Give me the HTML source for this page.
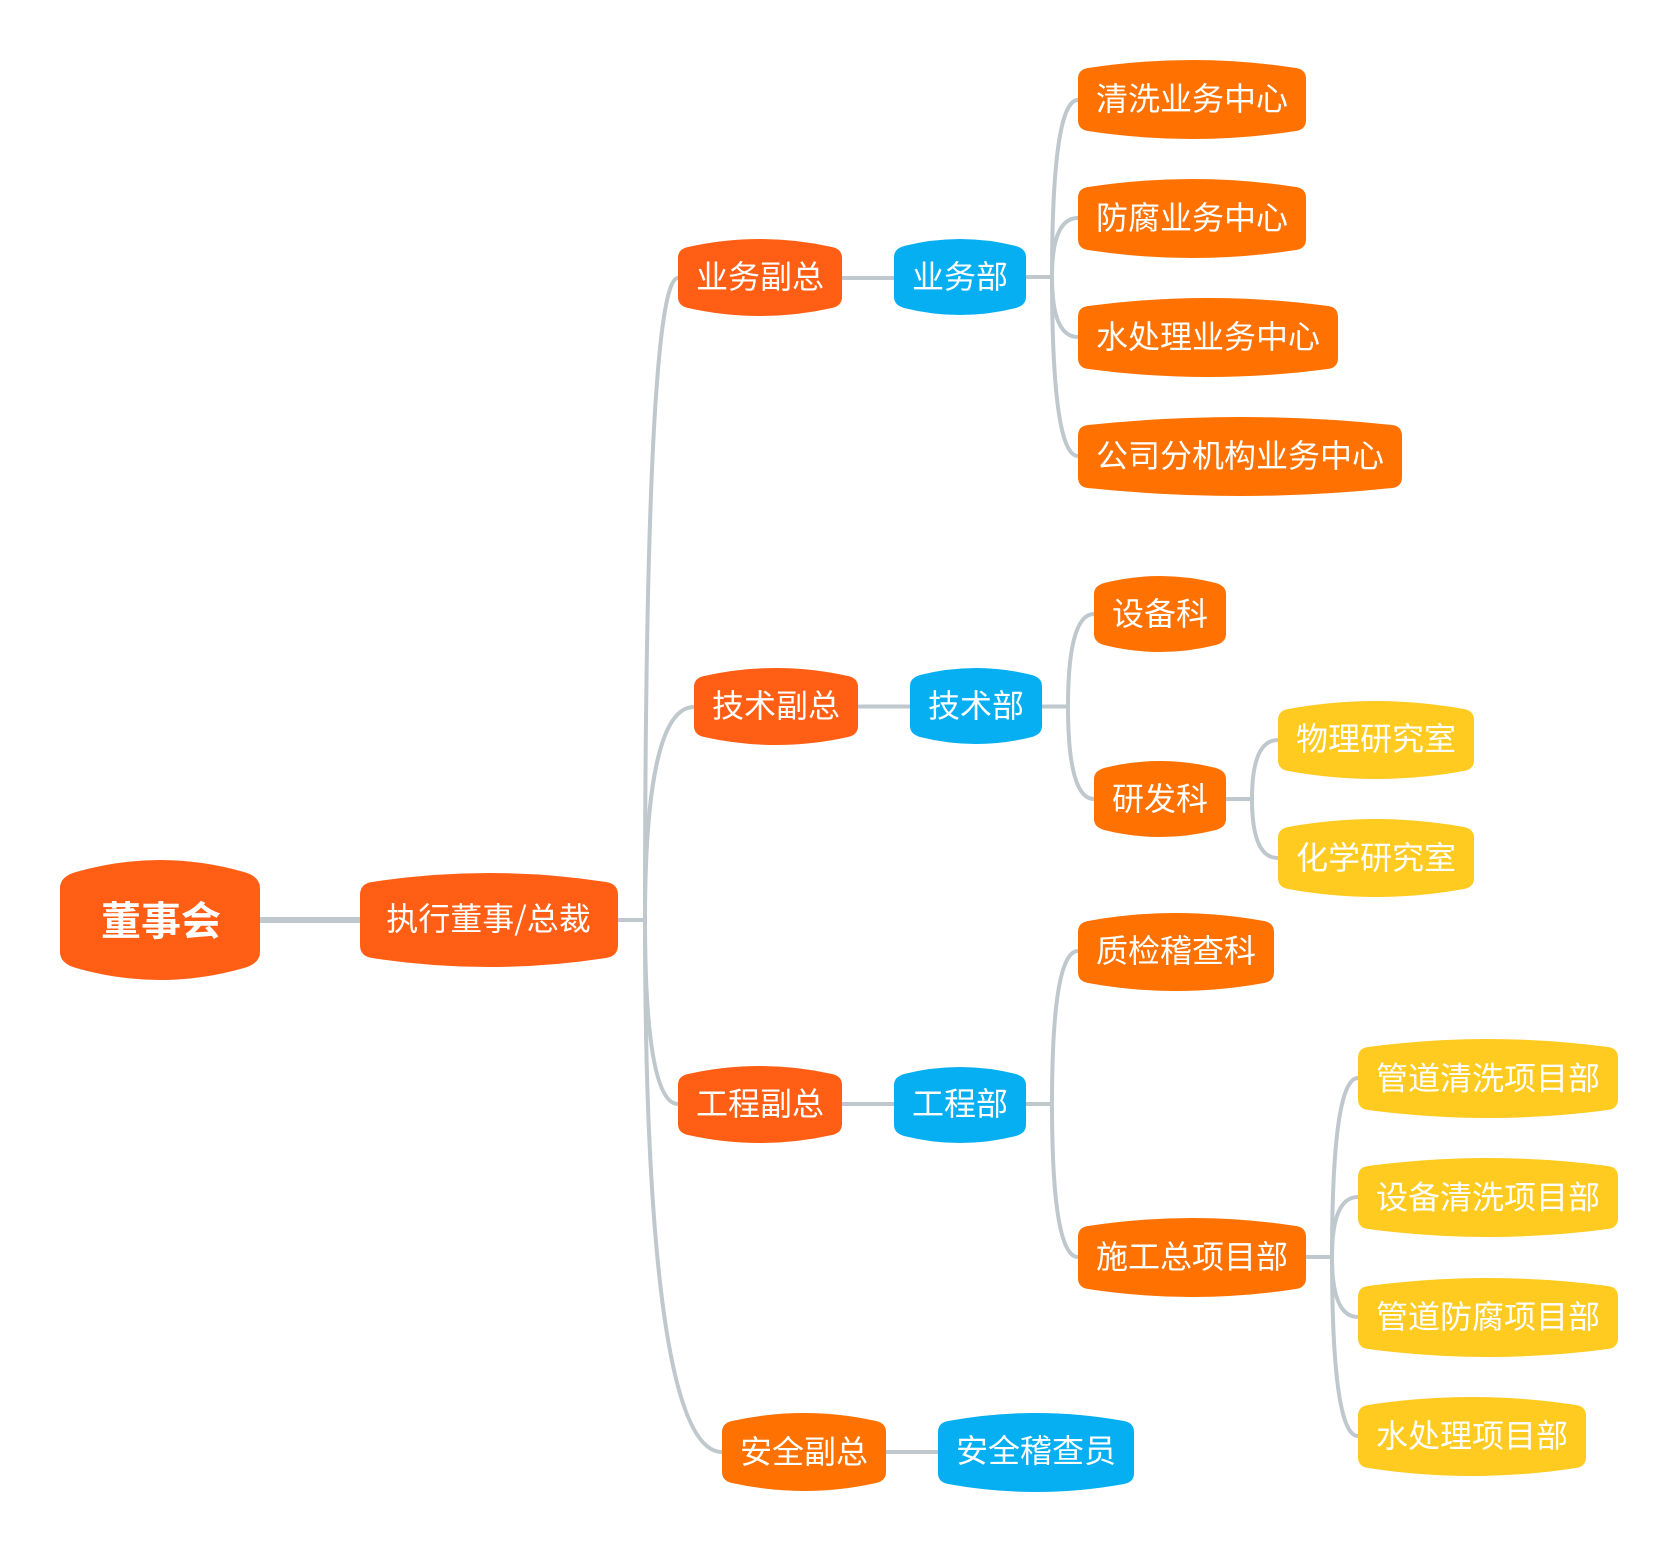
<!DOCTYPE html>
<html lang="zh"><head><meta charset="utf-8"><title>组织架构</title>
<style>
html,body{margin:0;padding:0;background:#fff}
svg{display:block}
text{font-family:"Liberation Sans","Noto Sans CJK SC",sans-serif;font-size:32px;fill:#fff;text-anchor:middle}
.l{fill:none;stroke:#bfc8cc;stroke-width:4}
.a{fill:#ff5e14}.b{fill:#ff7100}.c{fill:#05aff2}.d{fill:#ffcb20}
</style></head><body>
<svg width="1678" height="1552" viewBox="0 0 1678 1552" xmlns="http://www.w3.org/2000/svg">
<rect width="1678" height="1552" fill="#fff"/>
<g class="l">
<path d="M260 920H360" stroke-width="6"/>
<path d="M618 920H645M842 278H894M1026 277H1052M858 706.500H910M1042 706.500H1068M1226 799H1252M842 1104H894M1026 1104H1052M1306 1257H1332M886 1452H938"/>
<path d="M645 920C645 599 651.600 278 678 278"/>
<path d="M645 920C645 813.500 654.800 707 694 707"/>
<path d="M645 920C645 1012 651.600 1104 678 1104"/>
<path d="M645 920C645 1186 660.400 1452 722 1452"/>
<path d="M1052 277C1052 188.500 1057 100 1078 100"/>
<path d="M1052 277C1052 247.500 1057 218 1078 218"/>
<path d="M1052 277C1052 307 1057 337 1078 337"/>
<path d="M1052 277C1052 366.500 1057 456 1078 456"/>
<path d="M1068 706.500C1068 660.500 1073 614 1094 614"/>
<path d="M1068 706.500C1068 753 1073 799 1094 799"/>
<path d="M1252 799C1252 769.500 1257 740 1278 740"/>
<path d="M1252 799C1252 828.500 1257 858 1278 858"/>
<path d="M1052 1104C1052 1027.500 1057 951 1078 951"/>
<path d="M1052 1104C1052 1180.500 1057 1257 1078 1257"/>
<path d="M1332 1257C1332 1167.500 1337 1078 1358 1078"/>
<path d="M1332 1257C1332 1227 1337 1197 1358 1197"/>
<path d="M1332 1257C1332 1287 1337 1317 1358 1317"/>
<path d="M1332 1257C1332 1346.500 1337 1436 1358 1436"/>
</g>

<path class="a" d="M60 888q0-11.400 16-16q84-24 168 0q16 4.600 16 16v64q0 11.400-16 16q-84 24-168 0q-16-4.600-16-16z"/>
<text x="161" y="935" style="font-size:40px;font-weight:bold">董事会</text>

<path class="a" d="M360 895q0-11.200 12-13q117-18 234 0q12 1.800 12 13v50q0 11.200-12 13q-117 18-234 0q-12-1.800-12-13z"/>
<text x="488.500" y="930" style='font-family:"Noto Sans CJK SC",sans-serif'>执行董事/总裁</text>

<g transform="translate(678 239)"><path class="a" d="M0 19q0-8.800 10-11q72-16 144 0q10 2.200 10 11v39q0 8.800-10 11q-72 16-144 0q-10-2.200-10-11z"/><text x="82" y="49">业务副总</text></g>
<g transform="translate(894 239)"><path class="c" d="M0 18q0-8 10-11q56-14 112 0q10 3 10 11v40q0 8-10 11q-56 14-112 0q-10-3-10-11z"/><text x="66" y="49">业务部</text></g>
<g transform="translate(1078 60)"><path class="b" d="M0 19q0-9.500 10-11q104-16 208 0q10 1.500 10 11v41q0 9.500-10 11q-104 16-208 0q-10-1.500-10-11z"/><text x="114" y="50">清洗业务中心</text></g>
<g transform="translate(1078 179)"><path class="b" d="M0 19q0-9.500 10-11q104-16 208 0q10 1.500 10 11v41q0 9.500-10 11q-104 16-208 0q-10-1.500-10-11z"/><text x="114" y="50">防腐业务中心</text></g>
<g transform="translate(1078 298)"><path class="b" d="M0 19q0-9.700 10-11q120-16 240 0q10 1.300 10 11v41q0 9.700-10 11q-120 16-240 0q-10-1.300-10-11z"/><text x="130" y="50">水处理业务中心</text></g>
<g transform="translate(1078 417)"><path class="b" d="M0 19q0-10 10-11q152-16 304 0q10 1 10 11v41q0 10-10 11q-152 16-304 0q-10-1-10-11z"/><text x="162" y="50">公司分机构业务中心</text></g>

<g transform="translate(694 668)"><path class="a" d="M0 19q0-8.800 10-11q72-16 144 0q10 2.200 10 11v39q0 8.800-10 11q-72 16-144 0q-10-2.200-10-11z"/><text x="82" y="49">技术副总</text></g>
<g transform="translate(910 668)"><path class="c" d="M0 18q0-8 10-11q56-14 112 0q10 3 10 11v40q0 8-10 11q-56 14-112 0q-10-3-10-11z"/><text x="66" y="49">技术部</text></g>
<g transform="translate(1094 576)"><path class="b" d="M0 18q0-8 10-11q56-14 112 0q10 3 10 11v40q0 8-10 11q-56 14-112 0q-10-3-10-11z"/><text x="66" y="49">设备科</text></g>
<g transform="translate(1094 761)"><path class="b" d="M0 18q0-8 10-11q56-14 112 0q10 3 10 11v40q0 8-10 11q-56 14-112 0q-10-3-10-11z"/><text x="66" y="49">研发科</text></g>
<g transform="translate(1278 701)"><path class="d" d="M0 19q0-9.200 10-11q88-16 176 0q10 1.800 10 11v40q0 9.200-10 11q-88 16-176 0q-10-1.800-10-11z"/><text x="98" y="49">物理研究室</text></g>
<g transform="translate(1278 819)"><path class="d" d="M0 19q0-9.200 10-11q88-16 176 0q10 1.800 10 11v40q0 9.200-10 11q-88 16-176 0q-10-1.800-10-11z"/><text x="98" y="50">化学研究室</text></g>

<g transform="translate(678 1066)"><path class="a" d="M0 19q0-8.800 10-11q72-16 144 0q10 2.200 10 11v39q0 8.800-10 11q-72 16-144 0q-10-2.200-10-11z"/><text x="82" y="49">工程副总</text></g>
<g transform="translate(894 1067)"><path class="c" d="M0 18q0-8 10-11q56-14 112 0q10 3 10 11v40q0 8-10 11q-56 14-112 0q-10-3-10-11z"/><text x="66" y="48">工程部</text></g>
<g transform="translate(1078 913)"><path class="b" d="M0 19q0-9.200 10-11q88-16 176 0q10 1.800 10 11v40q0 9.200-10 11q-88 16-176 0q-10-1.800-10-11z"/><text x="98" y="49">质检稽查科</text></g>
<g transform="translate(1078 1218)"><path class="b" d="M0 19q0-9.500 10-11q104-16 208 0q10 1.500 10 11v41q0 9.500-10 11q-104 16-208 0q-10-1.500-10-11z"/><text x="114" y="50">施工总项目部</text></g>
<g transform="translate(1358 1039)"><path class="d" d="M0 19q0-9.700 10-11q120-16 240 0q10 1.300 10 11v41q0 9.700-10 11q-120 16-240 0q-10-1.300-10-11z"/><text x="130" y="50.500">管道清洗项目部</text></g>
<g transform="translate(1358 1158)"><path class="d" d="M0 19q0-9.700 10-11q120-16 240 0q10 1.300 10 11v41q0 9.700-10 11q-120 16-240 0q-10-1.300-10-11z"/><text x="130" y="50.500">设备清洗项目部</text></g>
<g transform="translate(1358 1278)"><path class="d" d="M0 19q0-9.700 10-11q120-16 240 0q10 1.300 10 11v41q0 9.700-10 11q-120 16-240 0q-10-1.300-10-11z"/><text x="130" y="50">管道防腐项目部</text></g>
<g transform="translate(1358 1397)"><path class="d" d="M0 19q0-9.500 10-11q104-16 208 0q10 1.500 10 11v41q0 9.500-10 11q-104 16-208 0q-10-1.500-10-11z"/><text x="114" y="50">水处理项目部</text></g>

<g transform="translate(722 1413)"><path class="b" d="M0 19q0-8.800 10-11q72-16 144 0q10 2.200 10 11v40q0 8.800-10 11q-72 16-144 0q-10-2.200-10-11z"/><text x="82" y="50">安全副总</text></g>
<g transform="translate(938 1413)"><path class="c" d="M0 19q0-9.200 10-11q88-16 176 0q10 1.800 10 11v41q0 9.200-10 11q-88 16-176 0q-10-1.800-10-11z"/><text x="98" y="49">安全稽查员</text></g>
</svg>
</body></html>
